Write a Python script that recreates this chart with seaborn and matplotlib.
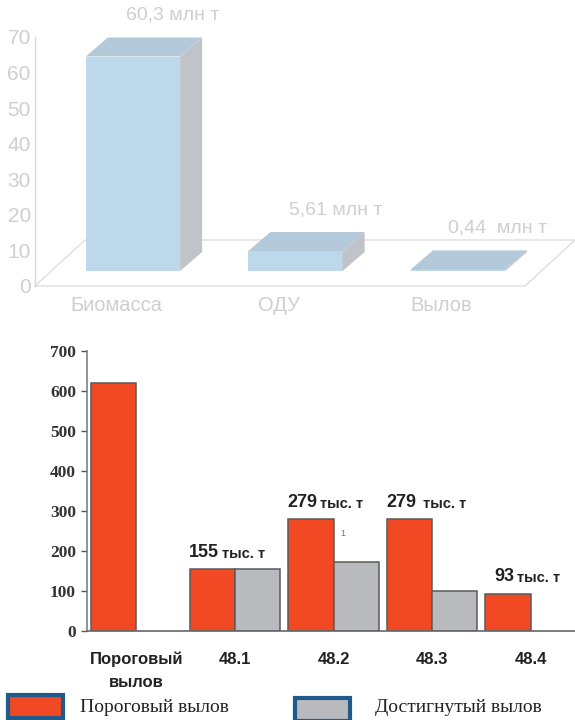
import numpy as np
import pandas as pd
import matplotlib
matplotlib.use("Agg")
import matplotlib.pyplot as plt
from matplotlib.patches import Polygon, Rectangle
import seaborn as sns

# Stock overview, million tonnes
stock_categories = ["Биомасса", "ОДУ", "Вылов"]
stock_values = [60.3, 5.61, 0.44]
stock_labels = ["60,3 млн т", "5,61 млн т", "0,44  млн т"]
stock_ticks = [0, 10, 20, 30, 40, 50, 60, 70]

# Catch by subarea, thousand tonnes
catch_groups = ["Пороговый\nвылов", "48.1", "48.2", "48.3", "48.4"]
series_names = ["Пороговый вылов", "Достигнутый вылов"]
threshold_catch = [620, 155, 279, 279, 93]
achieved_catch = [np.nan, 155, 172, 100, np.nan]
label_numbers = ["", "155", "279", "279", "93"]
label_units = ["", "тыс. т", "тыс. т", " тыс. т", "тыс. т"]
catch_ticks = [0, 100, 200, 300, 400, 500, 600, 700]

sns.set_style("white")
plt.rcParams["font.family"] = ["Liberation Sans", "DejaVu Sans"]

W, H = 575, 720
fig = plt.figure(figsize=(W / 100, H / 100), dpi=100)


def px_box(x0, y0, x1, y1):
    return [x0 / W, 1 - y1 / H, (x1 - x0) / W, (y1 - y0) / H]


# ---------- pseudo-3D overview chart ----------
FRONT, TOPC, SIDE = "#bdd8ea", "#b3c9d9", "#c0c4c9"
FAINT = "#cfcfcf"
ax1 = fig.add_axes(px_box(35, 37, 575, 286))
sns.barplot(x=stock_categories, y=stock_values, ax=ax1, width=0.58,
            color=FRONT, saturation=1, edgecolor="none", zorder=3)

x_lo, x_hi = -0.603, 2.72
ax1.set_xlim(x_lo, x_hi)
ax1.set_ylim(0, 70)
ppx = (575 - 35) / (x_hi - x_lo)          # pixels per x unit
ppy = (286 - 37) / 70                      # pixels per y unit
base = 15 / ppy                            # bars stand mid-depth on the floor
dx, dy = 22 / ppx, 19 / ppy                # bar depth
fdx, fdy = 50 / ppx, 46 / ppy              # floor depth

# floor outline
floor = [(x_lo, 0), (x_hi - fdx, 0), (x_hi, fdy), (x_lo + fdx, fdy), (x_lo, 0)]
ax1.plot(*zip(*floor), color="#dedede", lw=1, zorder=1, clip_on=False)

for p in ax1.patches:
    h = p.get_height()
    p.set_y(base)
    x0, x1 = p.get_x(), p.get_x() + p.get_width()
    top = base + h
    ax1.add_patch(Polygon([(x0, top), (x1, top), (x1 + dx, top + dy), (x0 + dx, top + dy)],
                          closed=True, facecolor=TOPC, edgecolor="none", zorder=3))
    ax1.add_patch(Polygon([(x1, base), (x1 + dx, base + dy), (x1 + dx, top + dy), (x1, top)],
                          closed=True, facecolor=SIDE, edgecolor="none", zorder=3))

for i, (v, lab) in enumerate(zip(stock_values, stock_labels)):
    ax1.annotate(lab, xy=(i + 40 / ppx, base + v + dy), xytext=(0, 16),
                 textcoords="offset points", ha="center", va="center",
                 fontsize=14, color=FAINT, annotation_clip=False)

ax1.set_yticks(stock_ticks)
ax1.set_xticks(np.arange(len(stock_categories)) - 17 / ppx)
ax1.set_xticklabels(stock_categories)
ax1.tick_params(axis="y", length=0, pad=3, labelsize=15, labelcolor=FAINT)
ax1.tick_params(axis="x", length=0, pad=7, labelsize=14.5, labelcolor=FAINT)
for s in ["top", "right", "bottom"]:
    ax1.spines[s].set_visible(False)
ax1.spines["left"].set_color("#d9d9d9")
ax1.spines["left"].set_linewidth(1)
ax1.set_xlabel("")
ax1.set_ylabel("")
ax1.patch.set_alpha(0)

# ---------- catch by subarea ----------
RED, GRAY, EDGE = "#f04923", "#b9babe", "#5a5a5a"
df = pd.DataFrame({
    "group": catch_groups * 2,
    "series": [series_names[0]] * len(catch_groups) + [series_names[1]] * len(catch_groups),
    "value": threshold_catch + achieved_catch,
})
ax2 = fig.add_axes(px_box(87, 351, 580, 631))
sns.barplot(data=df, x="group", y="value", hue="series", hue_order=series_names,
            palette=[RED, GRAY], width=0.92, gap=0, saturation=1,
            edgecolor=EDGE, linewidth=1.1, legend=False, ax=ax2)
ax2.set_xlim(-0.5, 4.5)
ax2.set_ylim(0, 700)
ax2.set_yticks(catch_ticks)
ax2.set_xticks(np.arange(-0.5, len(catch_groups) - 1, 1))
ax2.set_xticklabels([])
ax2.set_xticks(np.arange(len(catch_groups)), minor=True)
ax2.set_xticklabels(catch_groups, minor=True)
ax2.tick_params(axis="x", which="major", length=5, width=1, color="#555", direction="out")
ax2.tick_params(axis="x", which="minor", length=0, pad=15, labelsize=12, labelcolor="#222")
for lbl in ax2.get_xticklabels(minor=True):
    lbl.set_fontweight("bold")
    lbl.set_linespacing(1.65)
ax2.tick_params(axis="y", length=4, width=1, color="#555", direction="out", pad=4,
                labelsize=12.5, labelcolor="#333", left=True)
for lbl in ax2.get_yticklabels():
    lbl.set_fontfamily(["Liberation Serif", "DejaVu Serif"])
    lbl.set_fontweight("bold")
for s in ["top", "right"]:
    ax2.spines[s].set_visible(False)
ax2.spines["left"].set_color("#808080")
ax2.spines["bottom"].set_color("#666666")
ax2.spines["left"].set_linewidth(1.2)
ax2.spines["bottom"].set_linewidth(1.2)
ax2.set_xlabel("")
ax2.set_ylabel("")

gpx = 493 / 5
for i, (num, unit) in enumerate(zip(label_numbers, label_units)):
    if not num:
        continue
    y = threshold_catch[i]
    ax2.annotate(num, xy=(i - 16 / gpx, y), xytext=(0, 6), textcoords="offset points",
                 ha="right", va="bottom", fontsize=13, fontweight="bold", color="#222")
    ax2.annotate(unit, xy=(i - 16 / gpx, y), xytext=(2, 6), textcoords="offset points",
                 ha="left", va="bottom", fontsize=10.5, fontweight="bold", color="#222")

fig.text(343 / W, 1 - 533 / H, "1", fontsize=6.5, color="#777", ha="center", va="center")

# legend boxes
LEG_EDGE = "#1f5a8a"
for (x0, y0, x1, y1), fc, name, tx in [((8, 695, 63, 718), RED, series_names[0], 80),
                                       ((295, 698, 350, 721), GRAY, series_names[1], 375)]:
    fig.add_artist(Rectangle((x0 / W, 1 - y1 / H), (x1 - x0) / W, (y1 - y0) / H,
                             transform=fig.transFigure, facecolor=fc,
                             edgecolor=LEG_EDGE, linewidth=3))
    fig.text(tx / W, 1 - 708 / H, name, fontsize=14, color="#222", ha="left", va="center",
             family=["Liberation Serif", "DejaVu Serif"])

fig.savefig("out.png", dpi=100)
